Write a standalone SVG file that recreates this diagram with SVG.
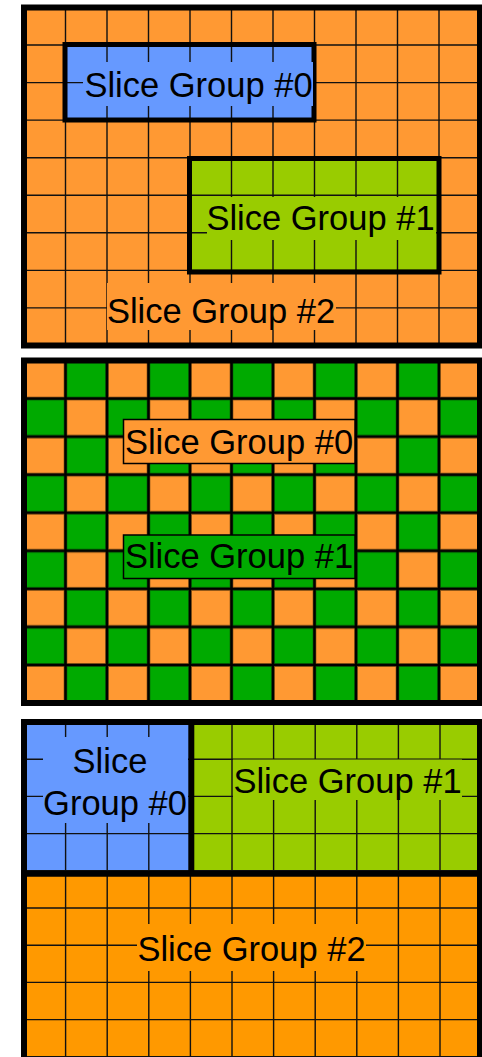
<svg xmlns="http://www.w3.org/2000/svg" width="482" height="1057" viewBox="0 0 482 1057">
<style>
.grid{stroke:#111;stroke-width:1.4;fill:none}
.border{fill:none;stroke:#000;stroke-width:6}
.sgb{fill:none;stroke:#000;stroke-width:5}
.div{stroke:#000;stroke-width:6}
.lbl{font-family:"Liberation Sans",Arial,sans-serif;font-size:34.5px;fill:#000;text-anchor:middle}
.box{stroke:#000;stroke-width:1.5}
</style>
<defs>
<pattern id="checker" patternUnits="userSpaceOnUse" x="24" y="360.5" width="83" height="76.12">
<rect x="0" y="0" width="83" height="76.12" fill="#000"/>
<rect x="1.5" y="1.5" width="38.5" height="35.06" fill="#FF9933" stroke="#7a4a10" stroke-width="0.6"/>
<rect x="43" y="1.5" width="38.5" height="35.06" fill="#00AA00" stroke="#055505" stroke-width="0.6"/>
<rect x="1.5" y="39.56" width="38.5" height="35.06" fill="#00AA00" stroke="#055505" stroke-width="0.6"/>
<rect x="43" y="39.56" width="38.5" height="35.06" fill="#FF9933" stroke="#7a4a10" stroke-width="0.6"/>
</pattern>
</defs>

<g id="panel-top">
<rect x="24" y="7.5" width="456" height="338" fill="#FF9933"/>
<rect x="65" y="44.5" width="249" height="75.5" fill="#6699FF"/>
<rect x="189.5" y="158.5" width="249.5" height="113.5" fill="#99CC00"/>
<g class="grid">
<path d="M65.5 7.5V345.5M107 7.5V345.5M148.5 7.5V345.5M190 7.5V345.5M231.5 7.5V345.5M273 7.5V345.5M314.5 7.5V345.5M356 7.5V345.5M397.5 7.5V345.5M439 7.5V345.5"/>
<path d="M24 45.05H480M24 82.6H480M24 120.15H480M24 157.7H480M24 195.25H480M24 232.8H480M24 270.35H480M24 307.9H480"/>
</g>
<g id="top-sg0">
<rect class="sgb" x="65" y="44.5" width="249" height="75.5"/>
<rect x="83" y="62" width="230" height="44" fill="#6699FF"/>
<text class="lbl" x="198.5" y="97">Slice Group #0</text>
</g>
<g id="top-sg1">
<rect class="sgb" x="189.5" y="158.5" width="249.5" height="113.5"/>
<rect x="207" y="197" width="229" height="43" fill="#99CC00"/>
<text class="lbl" x="320.5" y="230">Slice Group #1</text>
</g>
<g id="top-sg2">
<rect x="107" y="283" width="229" height="47" fill="#FF9933"/>
<text class="lbl" x="221" y="323">Slice Group #2</text>
</g>
<rect class="border" x="24" y="7.5" width="456" height="338"/>
</g>

<g id="panel-middle">
<rect x="24" y="360.5" width="456" height="342.5" fill="url(#checker)"/>
<g id="mid-sg0">
<rect class="box" x="123.5" y="419.5" width="231.5" height="44" fill="#FF9933"/>
<text class="lbl" x="239" y="454">Slice Group #0</text>
</g>
<g id="mid-sg1">
<rect class="box" x="123.5" y="535" width="231.5" height="43.5" fill="#00AA00"/>
<text class="lbl" x="239" y="568">Slice Group #1</text>
</g>
<rect class="border" x="24" y="360.5" width="456" height="342.5"/>
</g>

<g id="panel-bottom">
<rect x="24" y="722" width="167" height="151" fill="#6699FF"/>
<rect x="191" y="722" width="289" height="151" fill="#99CC00"/>
<rect x="24" y="873" width="456" height="190" fill="#FF9900"/>
<g class="grid">
<path d="M65.6 722V1060M107.2 722V1060M148.8 722V1060M190.4 722V1060M232 722V1060M273.6 722V1060M315.2 722V1060M356.8 722V1060M398.4 722V1060M440 722V1060"/>
<path d="M24 759.2H480M24 796.4H480M24 833.6H480M24 870.8H480M24 908H480M24 945.2H480M24 982.4H480M24 1019.6H480M24 1056.8H480"/>
</g>
<line class="div" x1="191.3" y1="722" x2="191.3" y2="873.7"/>
<line class="div" x1="24" y1="873.7" x2="480" y2="873.7"/>
<g id="bot-sg0">
<rect x="43" y="737" width="145" height="86" fill="#6699FF"/>
<text class="lbl" x="110" y="773">Slice</text>
<text class="lbl" x="115" y="815">Group #0</text>
</g>
<g id="bot-sg1">
<rect x="233" y="759.5" width="229" height="40.5" fill="#99CC00"/>
<text class="lbl" x="347.5" y="793">Slice Group #1</text>
</g>
<g id="bot-sg2">
<rect x="137" y="924" width="229" height="47" fill="#FF9900"/>
<text class="lbl" x="251.5" y="961">Slice Group #2</text>
</g>
<rect class="border" x="24" y="722" width="456" height="345"/>
</g>
</svg>
